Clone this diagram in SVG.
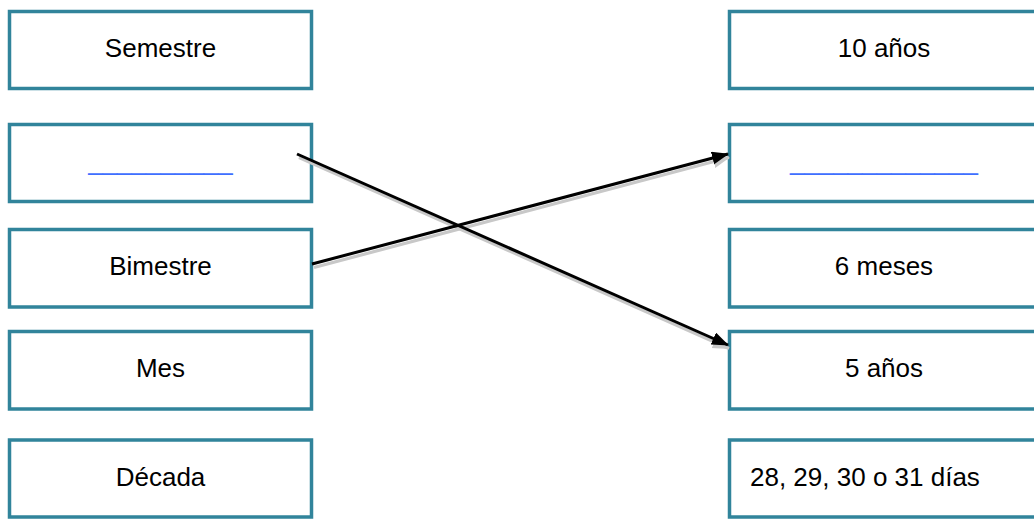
<svg xmlns="http://www.w3.org/2000/svg" width="1034" height="519" viewBox="0 0 1034 519">
<style>
.box{fill:#fff;stroke:#31849B;stroke-width:3.5}
.t{font-family:"Liberation Sans",Arial,sans-serif;font-size:26px;fill:#000;text-anchor:middle}
.u{fill:#3f6fff}
.conn{fill:none;stroke:#000;stroke-width:3}
.shadow{fill:none;stroke:#c8c8c8;stroke-width:3.2}
</style>
<defs>
<marker id="ah" markerUnits="userSpaceOnUse" markerWidth="18" markerHeight="14" refX="16" refY="6.5" orient="auto">
<path d="M0,0 L17,6.5 L0,13 z" fill="#000"/>
</marker>
<marker id="ahs" markerUnits="userSpaceOnUse" markerWidth="18" markerHeight="14" refX="16" refY="6.5" orient="auto">
<path d="M0,0 L17,6.5 L0,13 z" fill="#c8c8c8"/>
</marker>
</defs>
<g id="l1"><rect class="box" x="9.5" y="11.5" width="302" height="77"/><text class="t" x="160.5" y="57">Semestre</text></g>
<g id="l2"><rect class="box" x="9.5" y="124.5" width="302" height="77"/><text class="t u" x="160.5" y="170">__________</text></g>
<g id="l3"><rect class="box" x="9.5" y="229.5" width="302" height="77.5"/><text class="t" x="160.5" y="275">Bimestre</text></g>
<g id="l4"><rect class="box" x="9.5" y="331.5" width="302" height="77.5"/><text class="t" x="160.5" y="377">Mes</text></g>
<g id="l5"><rect class="box" x="9.5" y="440" width="302" height="77"/><text class="t" x="160.5" y="485.5">Década</text></g>
<g id="r1"><rect class="box" x="729.5" y="11.5" width="309" height="77"/><text class="t" x="884" y="57">10 años</text></g>
<g id="r2"><rect class="box" x="729.5" y="124.5" width="309" height="77"/><text class="t u" x="884" y="170">_____________</text></g>
<g id="r3"><rect class="box" x="729.5" y="229.5" width="309" height="77.5"/><text class="t" x="884" y="275">6 meses</text></g>
<g id="r4"><rect class="box" x="729.5" y="331.5" width="309" height="77.5"/><text class="t" x="884" y="377">5 años</text></g>
<g id="r5"><rect class="box" x="729.5" y="440" width="309" height="77"/><text class="t" x="750" y="485.5" style="text-anchor:start">28, 29, 30 o 31 días</text></g>
<g id="connectors">
<line class="shadow" x1="299" y1="157.5" x2="729" y2="348.5" marker-end="url(#ahs)"/>
<line class="shadow" x1="314" y1="267.5" x2="729" y2="157.5" marker-end="url(#ahs)"/>
<line class="conn" x1="297" y1="154" x2="728" y2="345" marker-end="url(#ah)"/>
<line class="conn" x1="312" y1="264" x2="728" y2="154" marker-end="url(#ah)"/>
</g>
</svg>
